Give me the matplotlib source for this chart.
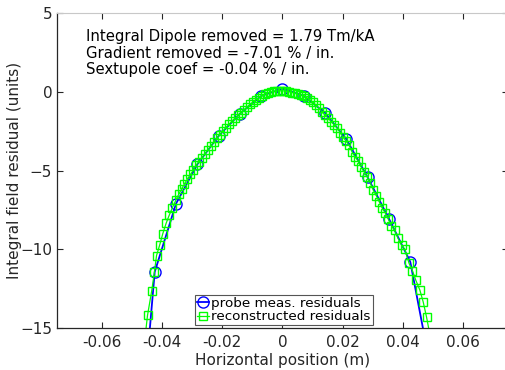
import matplotlib
matplotlib.use("Agg")
import matplotlib.pyplot as plt

# probe measurement residuals (blue circles), the two outer points fall below the axis
probe_x = [-0.0496, -0.0425, -0.0354, -0.0283, -0.0212, -0.0142, -0.0071, 0.0,
           0.0071, 0.0142, 0.0212, 0.0283, 0.0354, 0.0425, 0.0496]
probe_y = [-27.2, -11.44, -7.1, -4.6, -2.8, -1.4, -0.27, 0.2,
           -0.27, -1.35, -3.0, -5.42, -8.06, -10.8, -17.9]

# reconstructed residuals (green squares)
recon_x = [-0.0459, -0.0449, -0.0435, -0.0426, -0.0419, -0.0408, -0.0398, -0.0387,
           -0.0377, -0.0366, -0.0355, -0.0345, -0.0335, -0.0326, -0.0316, -0.0306,
           -0.0297, -0.0288, -0.0278, -0.0268, -0.0258, -0.0248, -0.0238, -0.0228,
           -0.0218, -0.0208, -0.0198, -0.0188, -0.0178, -0.0168, -0.0158, -0.0148,
           -0.0138, -0.0128, -0.0118, -0.0108, -0.0098, -0.0088, -0.0078, -0.0068,
           -0.0058, -0.0048, -0.0038, -0.0028, -0.0018, -0.0008, 0.0002, 0.0012,
           0.0022, 0.0032, 0.0042, 0.0052, 0.0062, 0.0072, 0.0082, 0.0092,
           0.0102, 0.0112, 0.0122, 0.0132, 0.0142, 0.0152, 0.0162, 0.0172,
           0.0182, 0.0192, 0.0202, 0.0212, 0.0222, 0.0232, 0.0242, 0.0252,
           0.0262, 0.0272, 0.0282, 0.0292, 0.0302, 0.0312, 0.0322, 0.0332,
           0.0342, 0.0352, 0.0362, 0.0373, 0.0384, 0.0396, 0.0407, 0.0421,
           0.0432, 0.0443, 0.0457, 0.0468, 0.0479, 0.0490]
recon_y = [-15.9, -14.2, -12.64, -11.45, -10.4, -9.7, -9.0, -8.35,
           -7.85, -7.35, -6.9, -6.5, -6.15, -5.85, -5.53, -5.25,
           -4.98, -4.68, -4.45, -4.2, -3.95, -3.7, -3.45, -3.2,
           -2.95, -2.72, -2.5, -2.28, -2.07, -1.87, -1.68, -1.5,
           -1.33, -1.15, -0.97, -0.8, -0.65, -0.5, -0.37, -0.26,
           -0.16, -0.08, -0.02, 0.02, 0.05, 0.06, 0.06, 0.04,
           0.0, -0.05, -0.1, -0.16, -0.22, -0.3, -0.4, -0.52,
           -0.68, -0.86, -1.05, -1.3, -1.5, -1.68, -1.9, -2.1,
           -2.3, -2.6, -2.9, -3.15, -3.4, -3.85, -4.15, -4.4,
           -4.8, -5.1, -5.4, -5.8, -6.25, -6.6, -7.0, -7.4,
           -7.7, -8.1, -8.5, -8.8, -9.3, -9.75, -10.0, -10.9,
           -11.35, -11.95, -12.6, -13.35, -14.3, -15.4]

x_ticks = [-0.06, -0.04, -0.02, 0, 0.02, 0.04, 0.06]
x_labels = ['-0.06', '-0.04', '-0.02', '0', '0.02', '0.04', '0.06']
y_ticks = [-15, -10, -5, 0, 5]

notes = ['Integral Dipole removed = 1.79 Tm/kA',
         'Gradient removed = -7.01 % / in.',
         'Sextupole coef = -0.04 % / in.']

plt.rcParams['font.family'] = ['DejaVu Sans']
dark = '#262626'

fig = plt.figure(figsize=(5.06, 3.70), dpi=100)
ax = fig.add_axes([57 / 506, 42 / 370, 451 / 506, 315 / 370])

ax.plot(probe_x, probe_y, color='blue', linestyle='-', linewidth=1.3,
        marker='o', markersize=8, markerfacecolor='none', markeredgewidth=1.0,
        label='probe meas. residuals')
ax.plot(recon_x, recon_y, color='#00ff00', linestyle='-', linewidth=0.9,
        marker='s', markersize=6, markerfacecolor='none', markeredgewidth=1.0,
        label='reconstructed residuals')

ax.set_xlim(-0.075, 0.075)
ax.set_ylim(-15, 5)
ax.set_xticks(x_ticks)
ax.set_xticklabels(x_labels)
ax.set_yticks(y_ticks)
ax.tick_params(direction='in', length=4, width=0.8, colors=dark, labelsize=11,
               top=True, right=True)
ax.tick_params(axis='x', pad=5)
for side in ['left', 'bottom']:
    ax.spines[side].set_color(dark)
    ax.spines[side].set_linewidth(0.9)
for side in ['top', 'right']:
    ax.spines[side].set_color('#c8c8c8')
    ax.spines[side].set_linewidth(0.8)

ax.set_xlabel('Horizontal position (m)', fontsize=11, color=dark, labelpad=2)
ax.set_ylabel('Integral field residual (units)', fontsize=11, color=dark, labelpad=-1)

# fit results written in the upper left
for i, s in enumerate(notes):
    ax.text(-0.0653, 3.5 - 1.055 * i, s, fontsize=10.7, color='black',
            ha='left', va='center')

leg = ax.legend(loc='lower left', bbox_to_anchor=(0.306, 0.008), fontsize=9.7,
                handlelength=0.9, handletextpad=0.15, borderpad=0.15,
                labelspacing=0.05, borderaxespad=0.0, fancybox=False,
                framealpha=1.0)
leg.get_frame().set_edgecolor('#555555')
leg.get_frame().set_linewidth(0.8)

fig.savefig('out.png', dpi=100)
